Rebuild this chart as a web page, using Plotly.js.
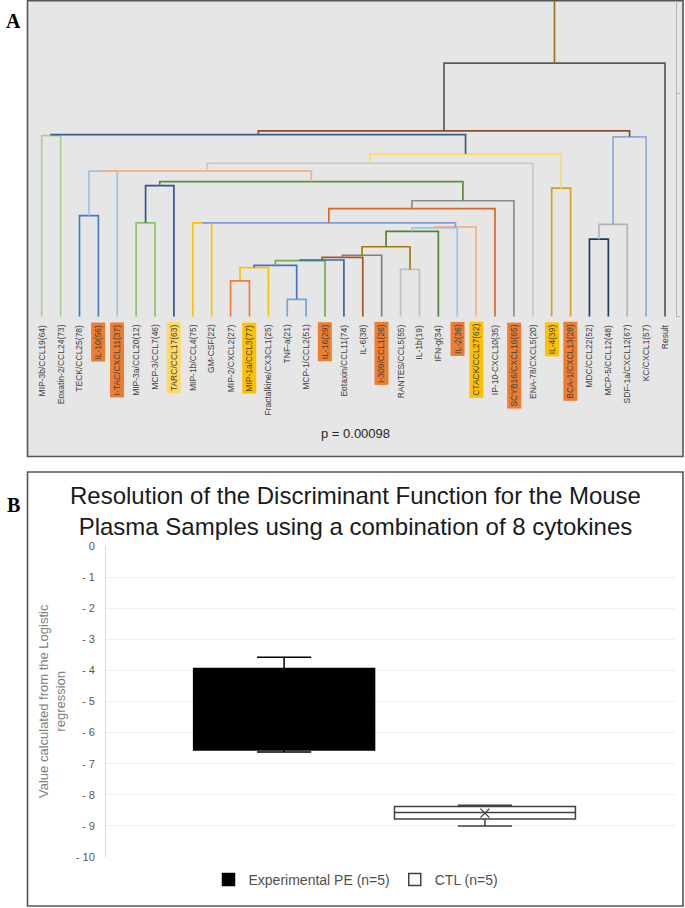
<!DOCTYPE html>
<html><head><meta charset="utf-8">
<script src="https://cdn.plot.ly/plotly-3.0.1.min.js"></script>
<style>html,body{margin:0;padding:0;background:#fff}#chart{width:685px;height:908px}</style>
</head><body><div id="chart"></div>
<script>
// ---------------- Panel A data (dendrogram) ----------------
const leafLabels = [
  "MIP-3b/CCL19(64)","Eoxatin-2/CCL24(73)","TECK/CCL25(78)","IL-10(56)","I-TAC/CXCL11(37)",
  "MIP-3a/CCL20(12)","MCP-3/CCL7(46)","TARC/CCL17(63)","MIP-1b/CCL4(75)","GM-CSF(22)",
  "MIP-2/CXCL2(27)","MIP-1a/CCL3(77)","Fractalkine/CX3CL1(25)","TNF-a(21)","MCP-1/CCL2(51)",
  "IL-16(29)","Eotaxin/CCL11(74)","IL-6(38)","I-309/CCL1(26)","RANTES/CCL5(55)",
  "IL-1b(19)","IFN-g(34)","IL-2(36)","CTACK/CCL27(62)","IP-10-CXCL10(35)",
  "SCYB16/CXCL16(65)","ENA-78/CXCL5(20)","IL-4(39)","BCA-1/CXCL13(28)","MDC/CCL22(52)",
  "MCP-5/CCL12(48)","SDF-1a/CXCL12(67)","KC/CXCL1(57)","Result"
];
// highlight of each leaf label: "" none, "o" orange, "y" yellow, "p" pale yellow
const leafHighlight = [
  "","","","o","o", "","","p","","", "","y","","","", "o","","","o","",
  "","","o","y","", "o","","y","o","", "","","",""
];
// merges: child ids 0..33 are leaves, 34+k is merge k
const mergeLeft   = [10,34,13,35,37,38,39,40,19,41,43,44,45, 8,47,48,49, 5,51,52, 2,54,55,56,27,57, 0,60,29,62,63,61,65];
const mergeRight  = [11,12,14,36,15,16,17,18,20,42,21,22,23, 9,46,24,25, 6, 7,50, 3, 4,53,26,28,58, 1,59,30,31,32,64,33];
const mergeHeight = [11.4,15.6,5.5,16.3,17.8,18.0,18.8,19.5,15.0,22.2,27.1,28.2,28.5,29.8,29.8,34.3,36.8,
                     29.8,41.6,42.9,32.1,46.2,46.3,48.7,40.8,51.6,57.5,57.8,24.6,29.3,57.1,59.0,80.5];
const mergeColor  = ["#ED7D31","#FFC000","#6FA8DC","#4472C4","#70AD47","#2E6DA4","#A5542A","#7F7F7F",
                     "#BFBFBF","#A67C00","#548235","#9DC3E6","#F4B183","#FFC000","#7F9FD8","#D9662A",
                     "#8C8C8C","#8DC26B","#2F5597","#5B8C3A","#3F7FC4","#9DC3E6","#F4B183","#C8C8C8",
                     "#D4A020","#FFD966","#A9D18E","#335F8A","#203864","#B4B4B4","#8FAADC","#8B4A2B","#595959"];
const stemColor = "#99751A";
const pValueText = "p = 0.00098";

// ---------------- Panel B data (box plot) ----------------
const groupNames = ["Experimental PE (n=5)", "CTL (n=5)"];
const boxLowerFence = [-6.62, -9.00];
const boxQ1         = [-6.56, -8.78];
const boxMedian     = [-5.30, -8.57];
const boxQ3         = [-3.94, -8.375];
const boxUpperFence = [-3.58, -8.34];
const boxMean       = [-5.20, -8.59];
const yTickVals  = [0,-1,-2,-3,-4,-5,-6,-7,-8,-9,-10];
const yTickText  = ["0","- 1","- 2","- 3","- 4","- 5","- 6","- 7","- 8","- 9","- 10"];
const chartTitle = "Resolution of the Discriminant Function for the Mouse<br>Plasma Samples using a combination of 8 cytokines";
const yTitle = "Value calculated from the Logistic<br>regression";

// ---------------- layout helpers ----------------
const W = 685, H = 908;
const px = p => p / W, py = p => 1 - p / H;
const FONT = "Liberation Sans, Arial, sans-serif";

const traces = [];
// dendrogram links
const nodeX = leafLabels.map((_, i) => i);
const nodeH = leafLabels.map(() => 0);
for (let k = 0; k < mergeLeft.length; k++) {
  const a = mergeLeft[k], b = mergeRight[k], h = mergeHeight[k];
  const xa = nodeX[a], xb = nodeX[b];
  traces.push({type:"scatter", mode:"lines", x:[xa,xa,xb,xb], y:[nodeH[a],h,h,nodeH[b]],
    line:{color:mergeColor[k], width:1.7}, hoverinfo:"skip", showlegend:false, xaxis:"x", yaxis:"y"});
  nodeX.push((xa + xb) / 2); nodeH.push(h);
}
const yTopA = 100.2;
const rootX = nodeX[nodeX.length-1], rootH = nodeH[nodeH.length-1];
traces.push({type:"scatter", mode:"lines", x:[rootX,rootX], y:[rootH,yTopA],
  line:{color:stemColor, width:1.7}, hoverinfo:"skip", showlegend:false, xaxis:"x", yaxis:"y"});

// box plot
const boxPos = [-0.187, 0.166], boxW = 0.318;
const boxFill = ["#000000", "#ffffff"], boxLine = ["#000000", "#404040"];
for (let g = 0; g < groupNames.length; g++) {
  traces.push({type:"box", name:groupNames[g], x:[boxPos[g]], q1:[boxQ1[g]], median:[boxMedian[g]],
    q3:[boxQ3[g]], lowerfence:[boxLowerFence[g]], upperfence:[boxUpperFence[g]],
    width:boxW, whiskerwidth:0.3, fillcolor:boxFill[g], line:{color:boxLine[g], width:1.5},
    boxpoints:false, hoverinfo:"skip", xaxis:"x2", yaxis:"y2"});
}
traces.push({type:"scatter", mode:"markers", x:[boxPos[1]], y:[boxMean[1]], showlegend:false, hoverinfo:"skip",
  marker:{symbol:"x-thin-open", size:9, color:"#404040", line:{color:"#404040", width:1.3}}, xaxis:"x2", yaxis:"y2"});

// annotations
const hlColor = {"o":"#ED7D31", "y":"#FFC000", "p":"#FFD966", "":"rgba(0,0,0,0)"};
const annotations = leafLabels.map((t, i) => ({
  text:t, x:i, y:0, xref:"x", yref:"y", yshift:-5, textangle:-90, xanchor:"center", yanchor:"top",
  showarrow:false, bgcolor:hlColor[leafHighlight[i]], borderpad:1.5,
  font:{family:FONT, size:8.5, color:"#404040"}
}));
annotations.push({text:pValueText, x:px(355), y:py(433), xref:"paper", yref:"paper", showarrow:false,
  xanchor:"center", yanchor:"middle", font:{family:FONT, size:13, color:"#262626"}});
annotations.push({text:"<b>A</b>", x:px(13), y:py(21), xref:"paper", yref:"paper", showarrow:false,
  xanchor:"center", yanchor:"middle",
  font:{family:"Liberation Serif, Times New Roman, serif", size:20, color:"#000"}});
annotations.push({text:"<b>B</b>", x:px(13), y:py(505), xref:"paper", yref:"paper", showarrow:false,
  xanchor:"center", yanchor:"middle",
  font:{family:"Liberation Serif, Times New Roman, serif", size:20, color:"#000"}});
annotations.push({text:chartTitle, x:px(355), y:py(511), xref:"paper", yref:"paper", showarrow:false,
  xanchor:"center", yanchor:"middle", font:{family:FONT, size:24, color:"#1a1a1a"}});
annotations.push({text:yTitle, x:px(52), y:py(701), xref:"paper", yref:"paper", showarrow:false, textangle:-90,
  xanchor:"center", yanchor:"middle", font:{family:FONT, size:13, color:"#808080"}});

const shapes = [
  {type:"rect", xref:"paper", yref:"paper", x0:px(27.5), x1:px(683), y0:py(0.8), y1:py(456.5),
   fillcolor:"#E6E6E6", line:{color:"#555555", width:1.6}, layer:"below"},
  {type:"rect", xref:"paper", yref:"paper", x0:px(27.5), x1:px(683), y0:py(472), y1:py(906),
   fillcolor:"#FFFFFF", line:{color:"#555555", width:1.6}, layer:"below"}
];

const layout = {
  width:W, height:H, margin:{l:0,r:0,t:0,b:0}, paper_bgcolor:"#fff", plot_bgcolor:"rgba(0,0,0,0)",
  showlegend:true,
  xaxis:{domain:[px(28), px(683)], range:[-0.7253, 33.953], visible:false, fixedrange:true},
  yaxis:{domain:[py(316.7), py(1)], range:[0, yTopA], side:"right", anchor:"free", position:px(675.7),
    showline:true, linecolor:"#B4B4B4", linewidth:1, ticks:"outside", ticklen:3, tickcolor:"#B4B4B4",
    tickvals:[0, 70.9], showticklabels:false, showgrid:false, zeroline:false},
  xaxis2:{domain:[px(106), px(675)], range:[-0.5, 0.5], anchor:"y2", showticklabels:false, showgrid:false,
    zeroline:false, showline:false, ticks:""},
  yaxis2:{domain:[py(857), py(546)], range:[-10, 0], anchor:"x2", tickvals:yTickVals, ticktext:yTickText,
    tickfont:{family:FONT, size:11, color:"#595959"}, ticks:"", ticklabelstandoff:8, showline:true,
    linecolor:"#D9D9D9", linewidth:1, gridcolor:"#EFEFEF", gridwidth:1, zeroline:false},
  legend:{orientation:"h", x:px(356), xanchor:"center", y:py(880), yanchor:"middle",
    font:{family:FONT, size:14, color:"#505050"}, bgcolor:"rgba(0,0,0,0)", itemclick:false, itemdoubleclick:false},
  annotations:annotations, shapes:shapes
};

Plotly.newPlot("chart", traces, layout, {staticPlot:true, displayModeBar:false});
</script>
</body></html>
